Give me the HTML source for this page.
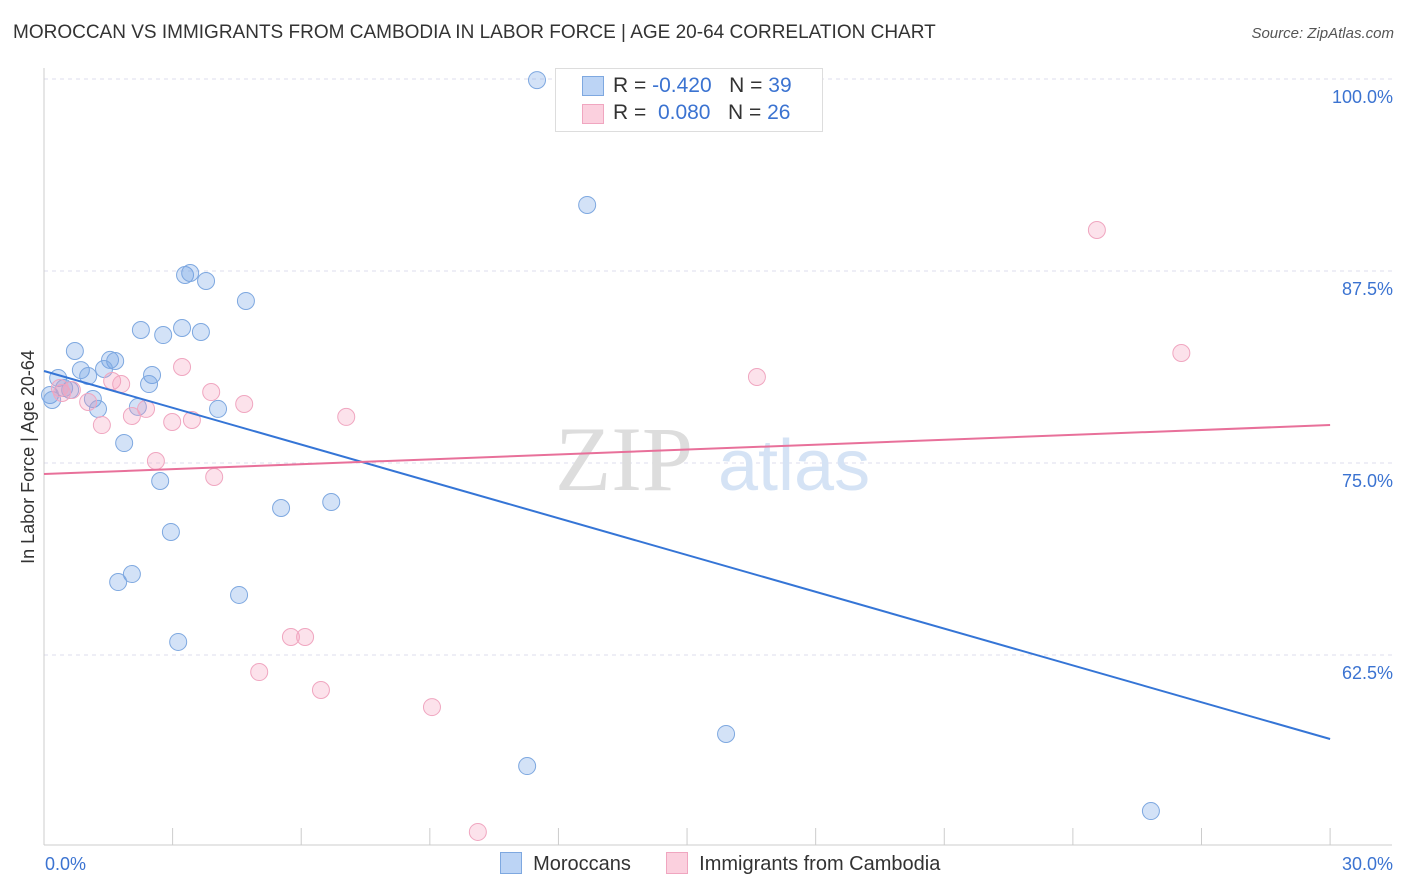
<!DOCTYPE html>
<html><head><meta charset="utf-8"><style>
body{margin:0;background:#fff;font-family:"Liberation Sans",sans-serif;}
#wrap{position:relative;width:1406px;height:892px;overflow:hidden;}
.t{position:absolute;white-space:nowrap;}
</style></head><body>
<div id="wrap">
<div class="t" style="left:13px;top:22px;font-size:19px;color:#333;">MOROCCAN VS IMMIGRANTS FROM CAMBODIA IN LABOR FORCE | AGE 20-64 CORRELATION CHART</div>
<div class="t" style="right:12px;top:25px;font-size:15px;color:#555;font-style:italic;">Source: ZipAtlas.com</div>
<svg id="svg" width="1406" height="892" style="position:absolute;left:0;top:0"></svg>
</div>
<script>
const yTicks=[100,87.5,75,62.5];
const yTickLabels=["100.0%","87.5%","75.0%","62.5%"];
const blueX=[11.50,12.67,3.29,3.41,3.78,4.71,2.26,2.78,3.22,3.66,0.72,1.54,1.66,0.86,1.40,1.03,2.52,2.45,0.33,0.47,0.61,0.14,0.19,1.14,1.26,2.19,4.06,1.87,2.71,5.53,6.70,2.96,2.05,1.73,4.55,3.13,15.91,11.27,25.82];
const blueY=[99.93,91.80,87.24,87.37,86.85,85.55,83.66,83.33,83.79,83.53,82.29,81.71,81.64,81.05,81.12,80.66,80.73,80.14,80.53,79.88,79.75,79.43,79.10,79.17,78.52,78.65,78.52,76.30,73.83,72.07,72.46,70.51,67.77,67.25,66.41,63.35,57.36,55.27,52.34];
const pinkX=[24.56,26.53,16.63,3.22,1.59,1.80,3.90,4.67,1.03,0.42,0.65,2.38,2.05,2.99,3.45,7.05,1.35,2.61,3.97,5.76,6.09,5.02,6.46,9.05,10.12,0.37];
const pinkY=[90.17,82.16,80.60,81.25,80.34,80.14,79.62,78.84,78.97,79.56,79.75,78.52,78.06,77.67,77.80,78.00,77.47,75.13,74.09,63.67,63.67,61.39,60.22,59.11,50.98,79.88];
const blueTrend=[80.99,57.03];
const pinkTrend=[74.28,77.47];
const X=v=>44+v*42.87, Y=v=>79+(100-v)*15.36;
const s=document.getElementById('svg'),NS='http://www.w3.org/2000/svg';
function mk(tag,attrs,txt){const e=document.createElementNS(NS,tag);for(const k in attrs)e.setAttribute(k,attrs[k]);if(txt!=null)e.textContent=txt;s.appendChild(e);return e;}
yTicks.forEach((t,i)=>{
 let g=mk('line',{x1:44,x2:1392,y1:Y(t),y2:Y(t),stroke:'#dde',"stroke-dasharray":'4,4'});
 
 
 let l=mk('text',{x:1393,y:Y(t)+24,"text-anchor":'end',"font-size":18,fill:'#3b73d1'},yTickLabels[i]);
 
 
});
let ax=mk('line',{x1:44,x2:44,y1:68,y2:845,stroke:'#ccc'});


let bx=mk('line',{x1:44,x2:1392,y1:845,y2:845,stroke:'#ccc'});


for(let i=0;i<=10;i++){let tk=mk('line',{x1:X(i*3),x2:X(i*3),y1:828,y2:845,stroke:'#ccc'});
 
 }
let x0=mk('text',{x:45,y:870,"font-size":18,fill:'#3b73d1'},'0.0%');
let x1=mk('text',{x:1393,y:870,"text-anchor":'end',"font-size":18,fill:'#3b73d1'},'30.0%');
let yt=mk('text',{x:34,y:457,"font-size":18,fill:'#333',"text-anchor":'middle',transform:'rotate(-90 34 457)'},'In Labor Force | Age 20-64');

let w1=mk('text',{x:555,y:490,"font-size":92,fill:'#ddd',"font-family":'Liberation Serif'},'ZIP');
let w2=mk('text',{x:718,y:490,"font-size":72,fill:'#d5e3f5'},'atlas');
blueX.forEach((v,i)=>{let c=mk('circle',{cx:X(v),cy:Y(blueY[i]),r:8.5,fill:'rgba(110,160,230,0.3)',stroke:'#7ea8e0',"stroke-width":1});
 });
pinkX.forEach((v,i)=>{let c=mk('circle',{cx:X(v),cy:Y(pinkY[i]),r:8.5,fill:'rgba(245,160,190,0.3)',stroke:'#f0a6c0',"stroke-width":1});
 });
let bl=mk('line',{x1:X(0),y1:Y(blueTrend[0]),x2:X(30),y2:Y(blueTrend[1]),stroke:'#3575d6',"stroke-width":2});

let pl=mk('line',{x1:X(0),y1:Y(pinkTrend[0]),x2:X(30),y2:Y(pinkTrend[1]),stroke:'#e8709a',"stroke-width":2});

</script>
<div style="position:absolute;left:555px;top:68px;width:266px;height:62px;border:1px solid #ddd;background:#fff;font-size:21px;color:#333;">
 <div style="position:absolute;left:26px;top:7px;width:20px;height:18px;background:#bcd4f5;border:1px solid #7ea8e0"></div>
 <div class="t" style="left:57px;top:5px">R = <span style="color:#3b73d1">-0.420</span>&nbsp;&nbsp;&nbsp;N = <span style="color:#3b73d1">39</span></div>
 <div style="position:absolute;left:26px;top:35px;width:20px;height:18px;background:#fbd0de;border:1px solid #f0a6c0"></div>
 <div class="t" style="left:57px;top:32px">R = &nbsp;<span style="color:#3b73d1">0.080</span>&nbsp;&nbsp;&nbsp;N = <span style="color:#3b73d1">26</span></div>
</div>
<div style="position:absolute;left:500px;top:852px;font-size:20px;color:#333;white-space:nowrap;">
 <span style="display:inline-block;width:20px;height:20px;background:#bcd4f5;border:1px solid #7ea8e0;vertical-align:-4px"></span>&nbsp; Moroccans
 <span style="display:inline-block;width:24px"></span>
 <span style="display:inline-block;width:20px;height:20px;background:#fbd0de;border:1px solid #f0a6c0;vertical-align:-4px"></span>&nbsp; Immigrants from Cambodia
</div>
</body></html>
